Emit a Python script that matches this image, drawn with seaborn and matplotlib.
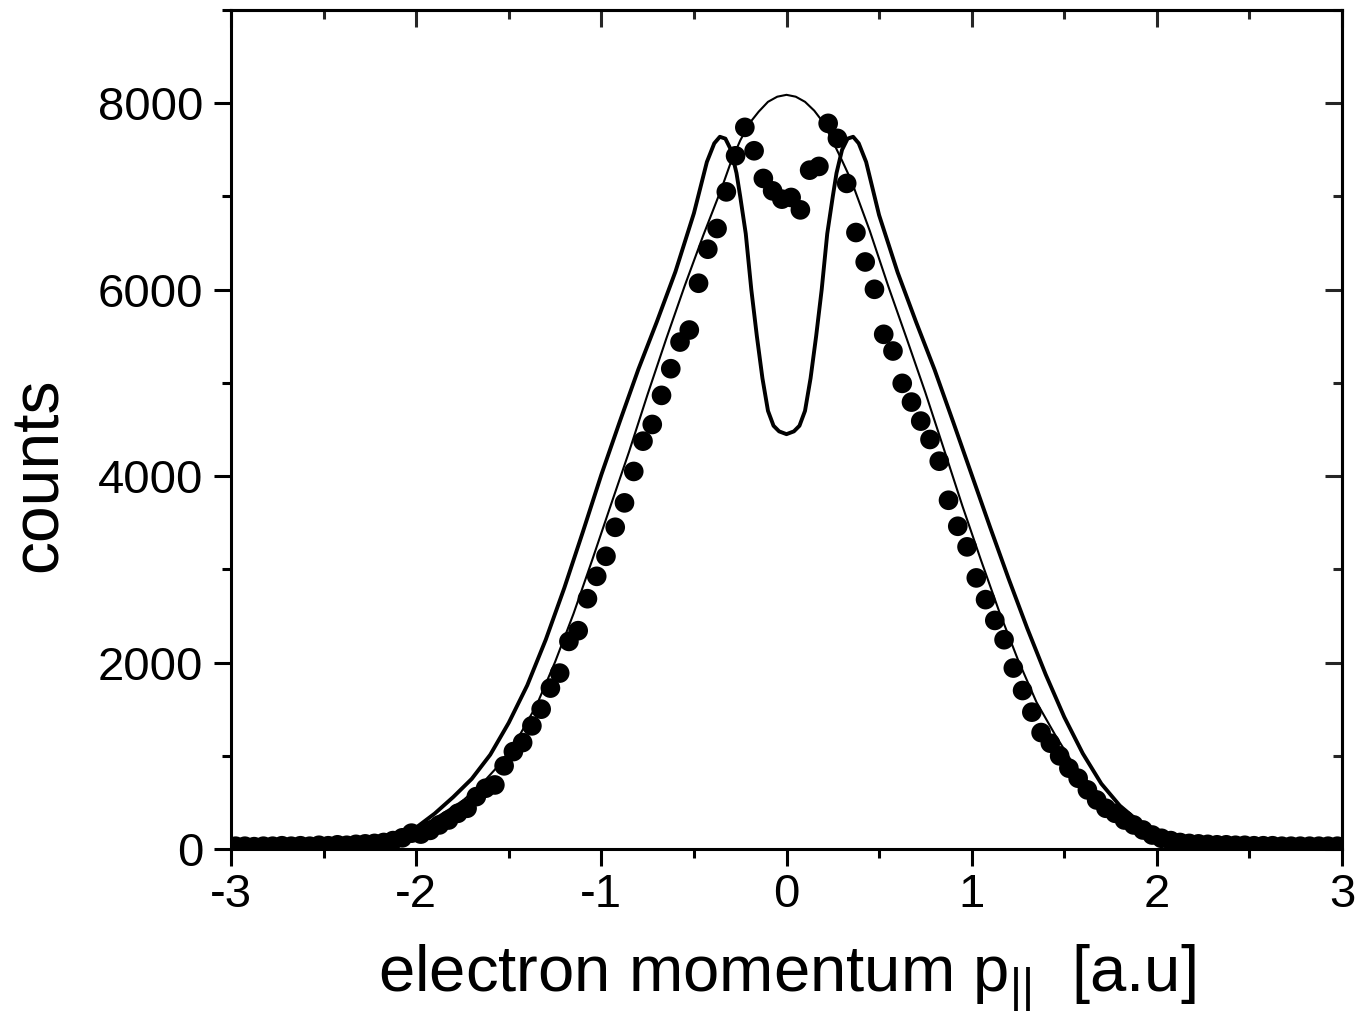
import numpy as np
import pandas as pd
import matplotlib
matplotlib.use("Agg")
import matplotlib.pyplot as plt
from matplotlib.ticker import MultipleLocator
import seaborn as sns

# ---------------- data ----------------
thin_x = [-3.0, -2.6, -2.3, -2.15, -2.05, -1.95, -1.85, -1.75, -1.65, -1.55, -1.45,
          -1.35, -1.25, -1.15, -1.05, -0.95, -0.85, -0.75, -0.65, -0.55, -0.45,
          -0.35, -0.3, -0.25, -0.2, -0.15, -0.1, -0.05, 0.0, 0.05, 0.1, 0.15, 0.2,
          0.25, 0.3, 0.35, 0.45, 0.55,
          0.65, 0.75, 0.85, 0.95, 1.05, 1.15, 1.25, 1.35, 1.45, 1.55, 1.65, 1.75,
          1.85, 1.95, 2.05, 2.15, 2.3, 2.6, 3.0]
thin_y = [30, 35, 45, 75, 150, 270, 390, 516, 689, 906, 1190,
          1541, 2005, 2525, 3096, 3682, 4263, 4878, 5470, 6040, 6580,
          7090, 7370, 7600, 7785, 7910, 8015, 8070, 8090, 8070, 8015, 7920, 7790,
          7590, 7385, 7170, 6630, 6035,
          5470, 4896, 4290, 3680, 3100, 2540, 2030, 1575, 1227, 908, 669, 470,
          332, 200, 120, 70, 45, 35, 30]

thick_x = [-3.0, -2.6, -2.3, -2.15, -2.07, -2.0, -1.9, -1.8, -1.7, -1.6, -1.5,
           -1.4, -1.3, -1.2, -1.1, -1.0, -0.9, -0.8, -0.7, -0.6, -0.5, -0.43,
           -0.39, -0.36, -0.33, -0.3, -0.27, -0.25, -0.22, -0.19, -0.16, -0.13,
           -0.1, -0.07, -0.04, 0.0, 0.04, 0.07, 0.1, 0.13, 0.16, 0.19, 0.22,
           0.25, 0.27, 0.3, 0.33, 0.36, 0.39, 0.43, 0.5, 0.6, 0.7, 0.8, 0.9,
           1.0, 1.1, 1.2, 1.3, 1.4, 1.5, 1.6, 1.7, 1.8, 1.9, 2.0, 2.07, 2.15,
           2.3, 2.6, 3.0]
thick_y = [30, 35, 45, 75, 130, 230, 380, 557, 752, 1011, 1354,
           1756, 2246, 2800, 3400, 4015, 4587, 5146, 5657, 6192, 6820, 7370,
           7570, 7640, 7620, 7500, 7250, 7000, 6600, 6000, 5500, 5050,
           4700, 4540, 4480, 4450, 4480, 4540, 4700, 5050, 5500, 6000, 6600,
           7000, 7250, 7500, 7620, 7640, 7570, 7370, 6800, 6186, 5652, 5140, 4582,
           4015, 3449, 2897, 2368, 1871, 1416, 1025, 701, 465, 298, 170, 110, 70,
           45, 35, 30]

dot_x = [-2.975, -2.925, -2.875, -2.825, -2.775, -2.725, -2.675, -2.625, -2.575, -2.525,
         -2.475, -2.425, -2.375, -2.325, -2.275, -2.225, -2.175, -2.125, -2.075, -2.025,
         -1.975, -1.925, -1.875, -1.825, -1.775, -1.725, -1.675, -1.625, -1.575, -1.525,
         -1.475, -1.425, -1.375, -1.325, -1.275, -1.225, -1.175, -1.125, -1.075, -1.025,
         -0.975, -0.925, -0.875, -0.825, -0.775, -0.725, -0.675, -0.625, -0.575, -0.525,
         -0.475, -0.425, -0.375, -0.325, -0.275, -0.225, -0.175, -0.125, -0.075, -0.025,
         0.025, 0.075, 0.125, 0.175, 0.225, 0.275, 0.325, 0.375, 0.425, 0.475,
         0.525, 0.575, 0.625, 0.675, 0.725, 0.775, 0.825, 0.875, 0.925, 0.975,
         1.025, 1.075, 1.125, 1.175, 1.225, 1.275, 1.325, 1.375, 1.425, 1.475,
         1.525, 1.575, 1.625, 1.675, 1.725, 1.775, 1.825, 1.875, 1.925, 1.975,
         2.025, 2.075, 2.125, 2.175, 2.225, 2.275, 2.325, 2.375, 2.425, 2.475,
         2.525, 2.575, 2.625, 2.675, 2.725, 2.775, 2.825, 2.875, 2.925, 2.975]
dot_y = [30, 30, 25, 30, 30, 35, 30, 35, 30, 40,
         35, 45, 40, 50, 55, 60, 70, 90, 120, 170,
         160, 200, 258, 311, 383, 437, 562, 652, 687, 892,
         1045, 1142, 1321, 1500, 1726, 1887, 2227, 2342, 2685, 2925,
         3140, 3451, 3713, 4050, 4375, 4554, 4866, 5152, 5438, 5567,
         6069, 6434, 6656, 7049, 7436, 7741, 7490, 7193, 7060, 6971,
         6989, 6856, 7282, 7322, 7784, 7623, 7140, 6613, 6297, 6004,
         5521, 5342, 4995, 4794, 4590, 4393, 4160, 3741, 3462, 3241,
         2908, 2675, 2452, 2245, 1941, 1700, 1468, 1249, 1135, 999,
         867, 759, 634, 526, 437, 383, 311, 258, 204, 150,
         115, 90, 70, 60, 55, 50, 45, 45, 40, 40,
         35, 35, 35, 30, 30, 30, 30, 30, 30, 30]

x_ticks = [-3, -2, -1, 0, 1, 2, 3]
x_ticklabels = ["-3", "-2", "-1", "0", "1", "2", "3"]
y_ticks = [0, 2000, 4000, 6000, 8000]
y_ticklabels = ["0", "2000", "4000", "6000", "8000"]
x_label = r"electron momentum p$_{\mathrm{||}}$  [a.u]"
y_label = "counts"

# ---------------- style ----------------
sns.set_theme(style="ticks")
plt.rcParams["font.family"] = ["Liberation Sans", "DejaVu Sans"]
plt.rcParams["mathtext.fontset"] = "custom"
plt.rcParams["mathtext.rm"] = "Liberation Sans"
plt.rcParams["mathtext.it"] = "Liberation Sans:italic"
plt.rcParams["mathtext.bf"] = "Liberation Sans:bold"

W, H = 1371, 1029
fig = plt.figure(figsize=(W / 100, H / 100), dpi=100)
ax = fig.add_axes([231 / W, (H - 849) / H, (1342 - 231) / W, (849 - 10) / H])

thin_df = pd.DataFrame({"x": thin_x, "y": thin_y})
thick_df = pd.DataFrame({"x": thick_x, "y": thick_y})
dot_df = pd.DataFrame({"x": dot_x, "y": dot_y})

sns.lineplot(data=thin_df, x="x", y="y", ax=ax, color="black", linewidth=1.5,
             sort=False, estimator=None, zorder=2)
sns.lineplot(data=thick_df, x="x", y="y", ax=ax, color="black", linewidth=2.8,
             sort=False, estimator=None, zorder=2)
sns.scatterplot(data=dot_df, x="x", y="y", ax=ax, color="black", s=200,
                edgecolor="none", linewidth=0, zorder=3)

ax.set_xlim(-3, 3)
ax.set_ylim(0, 9000)
ax.set_xticks(x_ticks)
ax.set_xticklabels(x_ticklabels)
ax.set_yticks(y_ticks)
ax.set_yticklabels(y_ticklabels)
ax.xaxis.set_minor_locator(MultipleLocator(0.5))
ax.yaxis.set_minor_locator(MultipleLocator(1000))

for sp in ax.spines.values():
    sp.set_linewidth(2.2)
    sp.set_color("black")

ax.tick_params(axis="both", which="major", direction="out", length=12, width=2.2,
               labelsize=34, colors="black")
ax.tick_params(axis="x", which="major", pad=5)
ax.tick_params(axis="y", which="major", pad=8)
ax.tick_params(axis="both", which="minor", direction="out", length=6.5, width=2.2,
               colors="black")

# inward ticks on top and right
sec_x = ax.secondary_xaxis("top")
sec_x.set_xticks(x_ticks)
sec_x.xaxis.set_minor_locator(MultipleLocator(0.5))
sec_x.tick_params(axis="x", which="major", direction="in", length=12, width=2.2,
                  labeltop=False)
sec_x.tick_params(axis="x", which="minor", direction="in", length=6.5, width=2.2)
sec_x.spines["top"].set_linewidth(2.2)

sec_y = ax.secondary_yaxis("right")
sec_y.set_yticks(y_ticks)
sec_y.yaxis.set_minor_locator(MultipleLocator(1000))
sec_y.tick_params(axis="y", which="major", direction="in", length=12, width=2.2,
                  labelright=False)
sec_y.tick_params(axis="y", which="minor", direction="in", length=6.5, width=2.2)
sec_y.spines["right"].set_linewidth(2.2)

ax.set_xlabel(x_label, fontsize=47, labelpad=19, color="black")
ax.set_ylabel(y_label, fontsize=47.5, color="black")
ax.yaxis.set_label_coords(-0.144, 0.4458)

fig.savefig("out.png", dpi=100, facecolor="white")
